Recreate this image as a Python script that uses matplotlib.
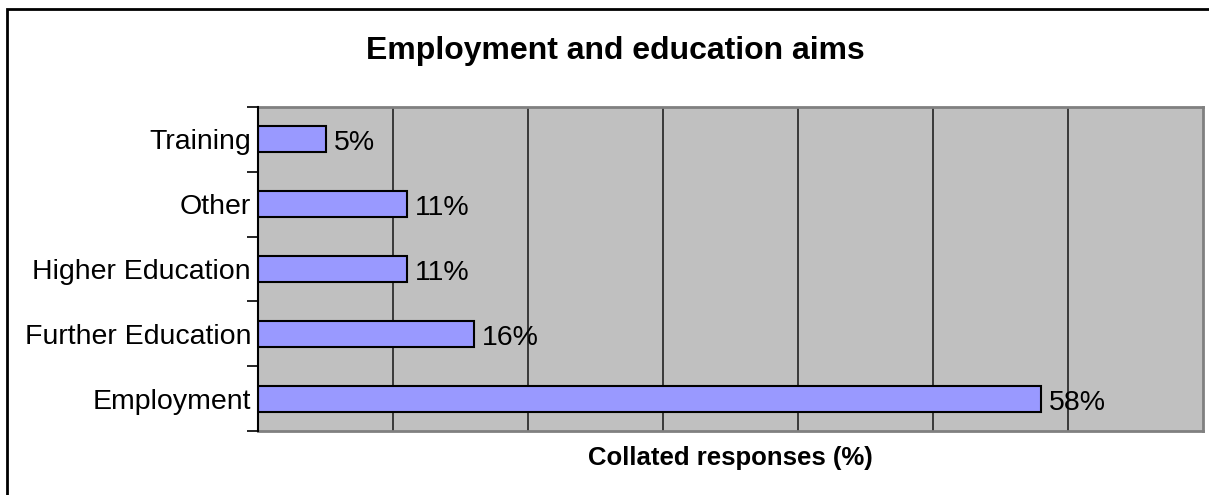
import matplotlib.pyplot as plt
from matplotlib.patches import Rectangle

plt.rcParams['font.family'] = ['Liberation Sans', 'DejaVu Sans']

categories = ["Employment", "Further Education", "Higher Education", "Other", "Training"]
values = [58, 16, 11, 11, 5]
x_max = 70
grid_step = 10

W, H = 1209, 495
fig = plt.figure(figsize=(W / 100, H / 100), dpi=100)
ax = fig.add_axes([258 / W, 1 - 431 / H, 945 / W, 324 / H])

ax.set_facecolor("#c0c0c0")
pos = range(len(categories))
ax.barh(pos, values, height=0.4, color="#9999ff", edgecolor="black", linewidth=1.5, zorder=3)

# value labels sit on the bar's baseline level
for y, v in zip(pos, values):
    ax.text(v + 0.6, y - 0.17, f"{v}%", va="baseline", ha="left", fontsize=20.5, zorder=4)

ax.set_xlim(0, x_max)
ax.set_ylim(-0.5, len(categories) - 0.5)
ax.set_xticks(range(grid_step, x_max, grid_step))
ax.xaxis.grid(True, color="#222222", linewidth=1.2, zorder=1)
ax.tick_params(axis="x", length=0, labelbottom=False)

ax.set_yticks(list(pos))
ax.set_yticklabels(categories, fontsize=20.5)
ax.tick_params(axis="y", which="major", length=0, pad=5)
ax.set_yticks([i - 0.5 for i in range(len(categories) + 1)], minor=True)
ax.tick_params(axis="y", which="minor", length=8, width=1.2, color="black")

for side in ("top", "right", "bottom"):
    ax.spines[side].set_color("#808080")
    ax.spines[side].set_linewidth(2)
ax.spines["left"].set_color("black")
ax.spines["left"].set_linewidth(1.5)
ax.spines["left"].set_zorder(5)

fig.text(730.5 / W, 1 - 465 / H, "Collated responses (%)", ha="center", va="baseline",
         fontsize=18.5, fontweight="bold")
fig.text(615 / W, 1 - 59 / H, "Employment and education aims", ha="center", va="baseline",
         fontsize=23, fontweight="bold")

# chart frame
fig.patches.append(Rectangle((7 / W, -0.05), 1.1, 1 - 9 / H + 0.05, transform=fig.transFigure,
                             fill=False, edgecolor="black", linewidth=2))

fig.savefig("out.png", dpi=100)
